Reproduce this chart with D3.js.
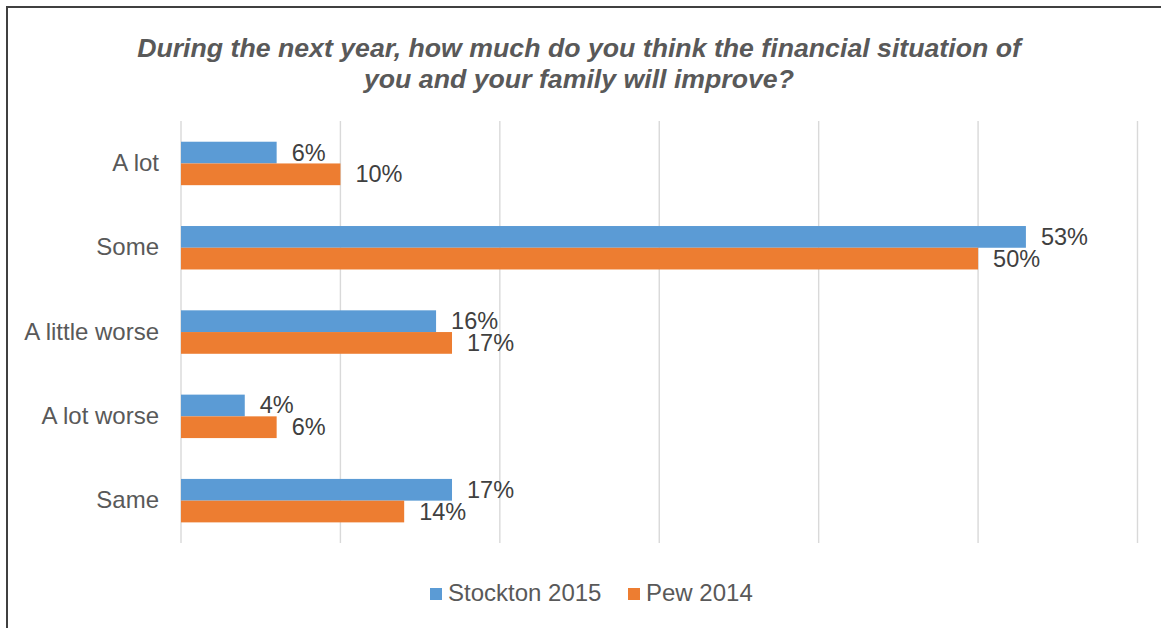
<!DOCTYPE html>
<html>
<head>
<meta charset="utf-8">
<script src="https://cdn.jsdelivr.net/npm/d3@7"></script>
<style>
  html, body { margin: 0; padding: 0; background: #fff; }
  svg { display: block; font-family: "Liberation Sans", Arial, sans-serif; }
</style>
</head>
<body>
<svg id="chart" width="1161" height="628"></svg>
<script>
// Survey answers and the two series
const categories = ["A lot", "Some", "A little worse", "A lot worse", "Same"];
const seriesNames = ["Stockton 2015", "Pew 2014"];
const stockton2015 = [6, 53, 16, 4, 17];
const pew2014 = [10, 50, 17, 6, 14];
const tickValues = [0, 10, 20, 30, 40, 50, 60];
const titleLines = [
  "During the next year, how much do you think the financial situation of",
  "you and your family will improve?"
];

const colors = { "Stockton 2015": "#5B9BD5", "Pew 2014": "#ED7D31" };
const seriesValues = { "Stockton 2015": stockton2015, "Pew 2014": pew2014 };

const svg = d3.select("#chart");

// outer frame (open at right and bottom edges of the page)
svg.append("rect")
  .attr("x", 7).attr("y", 7)
  .attr("width", 1170).attr("height", 640)
  .attr("fill", "none")
  .attr("stroke", "#404040")
  .attr("stroke-width", 2);

// title
svg.append("g").selectAll("text")
  .data(titleLines)
  .join("text")
  .attr("x", 579)
  .attr("y", (d, i) => 57 + i * 31)
  .attr("text-anchor", "middle")
  .attr("font-size", 26.7)
  .attr("font-weight", "bold")
  .attr("font-style", "italic")
  .attr("fill", "#595959")
  .text(d => d);

// scales
const x = d3.scaleLinear().domain([0, 60]).range([181, 1137.5]);
const y = d3.scaleBand().domain(categories).range([121.3, 542.8]).padding(0);
const ySeries = d3.scaleBand().domain(seriesNames)
  .range([0, y.bandwidth()])
  .paddingInner(0)
  .paddingOuter(0.94);

// vertical gridlines
svg.append("g").selectAll("line")
  .data(tickValues)
  .join("line")
  .attr("x1", d => x(d)).attr("x2", d => x(d))
  .attr("y1", 121).attr("y2", 543)
  .attr("stroke", "#d9d9d9")
  .attr("stroke-width", 1.4);

// category axis labels
const yAxis = d3.axisLeft(y).tickSize(0).tickPadding(22);
const yAxisG = svg.append("g")
  .attr("transform", `translate(${x(0)},0)`)
  .call(yAxis);
yAxisG.select(".domain").remove();
yAxisG.selectAll("text")
  .attr("font-size", 24)
  .attr("font-family", "Liberation Sans, Arial, sans-serif")
  .attr("fill", "#595959");

// bars and value labels
const rows = [];
categories.forEach((c, i) => {
  seriesNames.forEach(s => rows.push({ cat: c, series: s, value: seriesValues[s][i] }));
});

const barG = svg.append("g");
barG.selectAll("rect")
  .data(rows)
  .join("rect")
  .attr("x", x(0))
  .attr("y", d => y(d.cat) + ySeries(d.series))
  .attr("width", d => x(d.value) - x(0))
  .attr("height", ySeries.bandwidth())
  .attr("fill", d => colors[d.series]);

barG.selectAll("text")
  .data(rows)
  .join("text")
  .attr("x", d => x(d.value) + 15)
  .attr("y", d => y(d.cat) + ySeries(d.series) + ySeries.bandwidth() / 2 + 8)
  .attr("font-size", 23.5)
  .attr("fill", "#404040")
  .text(d => d.value + "%");

// legend
const legendPos = [{ name: "Stockton 2015", x: 430 }, { name: "Pew 2014", x: 628 }];
const legend = svg.append("g").selectAll("g")
  .data(legendPos)
  .join("g")
  .attr("transform", d => `translate(${d.x},588)`);
legend.append("rect")
  .attr("width", 12).attr("height", 12)
  .attr("fill", d => colors[d.name]);
legend.append("text")
  .attr("x", 18).attr("y", 12.5)
  .attr("font-size", 24)
  .attr("fill", "#595959")
  .text(d => d.name);
</script>
</body>
</html>
